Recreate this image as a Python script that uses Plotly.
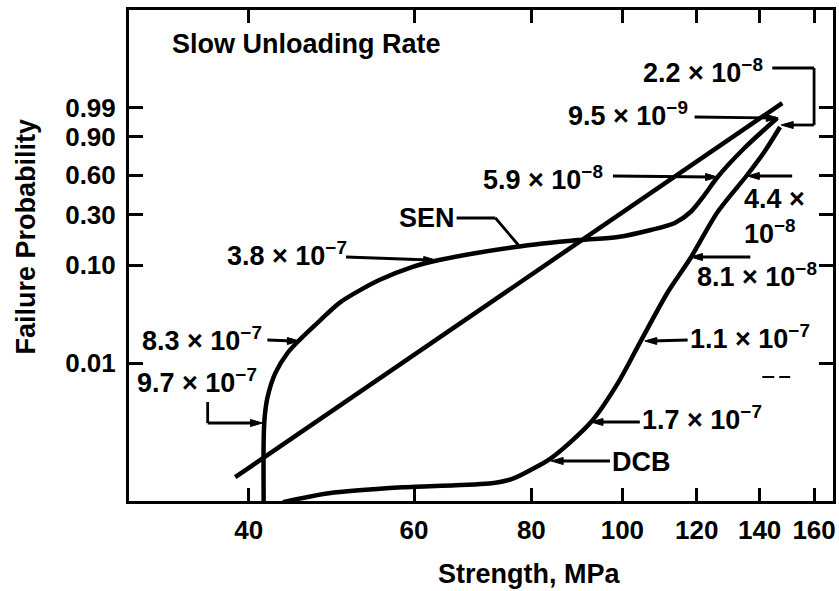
import numpy as np
import plotly.graph_objects as go

# ---------------- data ----------------
# SEN specimens
sen_strength = [41.5, 41.5, 41.6, 41.9, 42.7, 44.0, 45.3, 47.7, 50.1, 55.1, 59.7,
                63.8, 76.9, 89.7, 98.9, 107.2, 113.7, 118.2, 122.3, 126.3, 134.9, 146.2]
sen_prob = [0.00033, 0.00158, 0.00273, 0.00442, 0.00785, 0.0127, 0.0173, 0.0278,
            0.0425, 0.0711, 0.0958, 0.1124, 0.1503, 0.1753, 0.1874, 0.2177,
            0.2521, 0.3151, 0.4341, 0.5841, 0.8282, 0.9732]

# DCB specimens
dcb_strength = [43.5, 48.7, 58.8, 72.6, 76.2, 79.4, 84.0, 92.6, 98.9, 104.6,
                111.8, 118.2, 126.3, 135.8, 141.6, 147.2]
dcb_prob = [0.000355, 0.000440, 0.000509, 0.000560, 0.000617, 0.000747, 0.001022,
            0.002428, 0.00618, 0.01687, 0.0539, 0.1178, 0.3151, 0.6017, 0.798, 0.9459]

# straight (Weibull) reference line
line_strength = [38.7, 148.0]
line_prob = [0.000647, 0.9944]

x_ticks = [40, 60, 80, 100, 120, 140, 160]
y_tick_probs = [0.01, 0.10, 0.30, 0.60, 0.90, 0.99]
y_tick_text = ["0.01", "0.10", "0.30", "0.60", "0.90", "0.99"]


def weib(p):
    p = np.asarray(p, dtype=float)
    return np.log(-np.log1p(-p))


# ---------------- layout geometry ----------------
W, H = 839, 591
PL, PR, PT, PB = 129, 836, 10, 501


def px(x):
    return (x - PL) / (PR - PL)


def py(y):
    return (PB - y) / (PB - PT)


FONT = "Liberation Sans, Arial, sans-serif"
FS = 27
LW_CURVE = 4.5

fig = go.Figure()
for xs, ps in [(sen_strength, sen_prob), (dcb_strength, dcb_prob)]:
    fig.add_trace(go.Scatter(x=xs, y=weib(ps), mode="lines",
                             line=dict(color="black", width=LW_CURVE, shape="spline", smoothing=0.8),
                             showlegend=False, hoverinfo="skip"))
fig.add_trace(go.Scatter(x=line_strength, y=weib(line_prob), mode="lines",
                         line=dict(color="black", width=LW_CURVE),
                         showlegend=False, hoverinfo="skip"))

# ---------------- labels ----------------
SUP = -4  # labels with superscripts: box centre sits above the digits
labels = [
    ("2.2 × 10<sup>−8</sup>", 643, 75 + SUP),
    ("9.5 × 10<sup>−9</sup>", 568, 118 + SUP),
    ("5.9 × 10<sup>−8</sup>", 483, 182 + SUP),
    ("SEN", 398, 218),
    ("4.4 ×<br>10<sup>−8</sup>", 745, 216),
    ("8.1 × 10<sup>−8</sup>", 697, 279 + SUP),
    ("3.8 × 10<sup>−7</sup>", 225, 258 + SUP),
    ("8.3 × 10<sup>−7</sup>", 140, 343 + SUP),
    ("9.7 × 10<sup>−7</sup>", 135, 385 + SUP),
    ("1.1 × 10<sup>−7</sup>", 690, 341 + SUP),
    ("1.7 × 10<sup>−7</sup>", 642, 422 + SUP),
    ("DCB", 612, 462),
]
annotations = [dict(text="Slow Unloading Rate", x=px(170), y=py(44), xref="paper", yref="paper",
                    xanchor="left", yanchor="middle", showarrow=False,
                    font=dict(family=FONT, size=FS, color="black", weight="bold"))]
for t, lx, cy in labels:
    annotations.append(dict(text=t, x=px(lx), y=py(cy), xref="paper", yref="paper",
                            xanchor="left", yanchor="middle", showarrow=False, align="left",
                            font=dict(family=FONT, size=FS, color="black", weight="bold")))
# axis titles
annotations.append(dict(text="Strength, MPa", x=px(531), y=py(574), xref="paper", yref="paper",
                        xanchor="center", yanchor="middle", showarrow=False,
                        font=dict(family=FONT, size=FS, color="black", weight="bold")))
annotations.append(dict(text="Failure Probability", x=px(26), y=py(236), xref="paper", yref="paper",
                        xanchor="center", yanchor="middle", showarrow=False, textangle=-90,
                        font=dict(family=FONT, size=FS, color="black", weight="bold")))

# leader lines (pixel positions)
segments = [
    ((775, 68), (817, 68)), ((817, 68), (817, 125)), ((817, 125), (790, 125)),
    ((697, 117), (775, 118)),
    ((615, 176), (714, 177)),
    ((458, 218), (497, 218)), ((497, 218), (520, 245)),
    ((795, 176), (756, 176)),
    ((753, 257), (699, 257)),
    ((347, 257), (431, 260)),
    ((268, 340), (294, 341)),
    ((208, 402), (208, 423)), ((208, 423), (257, 423)),
    ((690, 340), (653, 341)),
    ((642, 422), (599, 422)),
    ((612, 461), (559, 461)),
]
arrow_tips = [  # (tip x, tip y, direction: +1 points right, -1 points left)
    (784, 125, -1), (781, 118, 1), (720, 177, 1), (750, 176, -1), (693, 257, -1),
    (437, 260, 1), (300, 341, 1), (263, 423, 1), (647, 341, -1), (593, 422, -1),
    (553, 461, -1),
]
shapes = []
for (x0, y0), (x1, y1) in segments:
    shapes.append(dict(type="line", xref="paper", yref="paper", x0=px(x0), y0=py(y0),
                       x1=px(x1), y1=py(y1), line=dict(color="black", width=2.8)))
for tx, ty, d in arrow_tips:
    bx = tx - d * 12
    path = (f"M {px(tx)} {py(ty)} L {px(bx)} {py(ty - 3.5)} "
            f"L {px(bx)} {py(ty + 3.5)} Z")
    shapes.append(dict(type="path", xref="paper", yref="paper", path=path,
                       fillcolor="black", line=dict(color="black", width=1)))
# small dash marks seen in the figure
for x0, x1 in [(765, 777), (782, 793)]:
    shapes.append(dict(type="line", xref="paper", yref="paper", x0=px(x0), y0=py(377),
                       x1=px(x1), y1=py(377), line=dict(color="black", width=2)))

ymin = 1.527 - (PB - 108) / 41.62
ymax = 1.527 + (108 - PT) / 41.62

fig.update_layout(
    width=W, height=H,
    margin=dict(l=PL, r=W - PR, t=PT, b=H - PB, pad=0),
    paper_bgcolor="white", plot_bgcolor="white",
    font=dict(family=FONT, size=FS, color="black", weight="bold"),
    annotations=annotations, shapes=shapes,
    xaxis=dict(type="log", range=[np.log10(29.83), np.log10(167.6)],
               tickvals=x_ticks, ticktext=[str(v) for v in x_ticks],
               tickfont=dict(size=26),
               ticks="inside", ticklen=13, tickwidth=2.5, tickcolor="black",
               showline=True, linewidth=3, linecolor="black", mirror="allticks",
               showgrid=False, zeroline=False, ticklabelstandoff=4),
    yaxis=dict(range=[ymin, ymax], tickvals=list(weib(y_tick_probs)), ticktext=y_tick_text,
               tickfont=dict(size=26),
               ticks="inside", ticklen=14, tickwidth=2.5, tickcolor="black",
               showline=True, linewidth=3, linecolor="black", mirror="allticks",
               showgrid=False, zeroline=False, ticklabelstandoff=5),
)

fig.write_html("out.html", config={"displayModeBar": False},
               post_script="document.body.style.margin='0';")
